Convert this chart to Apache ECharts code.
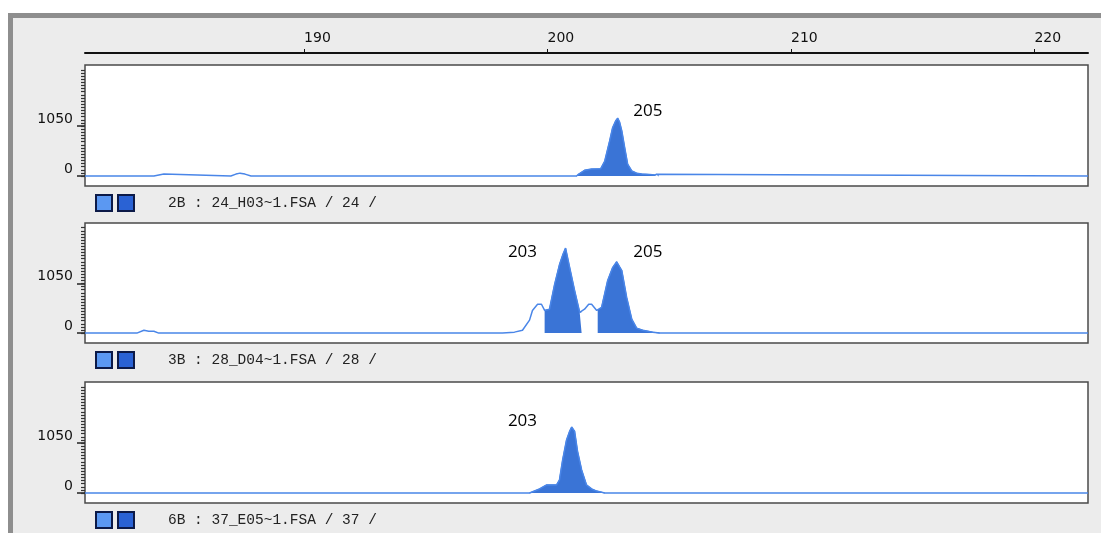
<!DOCTYPE html>
<html><head><meta charset="utf-8">
<script src="https://cdn.jsdelivr.net/npm/echarts@6/dist/echarts.min.js"></script>
<style>html,body{margin:0;padding:0;background:#fff}#c{width:1101px;height:533px}</style>
</head><body><div id="c"></div>
<script>
// ---- data ----
const xTicks = [190, 200, 210, 220];
const yTicks = [0, 1050];
const panelNames = ['2B : 24_H03~1.FSA / 24 /', '3B : 28_D04~1.FSA / 28 /', '6B : 37_E05~1.FSA / 37 /'];
const trace1 = [[181.0,0],[181.45,0],[181.53,40],[181.61,0],[182.67,0],[182.72,40],[182.80,0],[183.83,0],[183.91,40],[184.24,40],[184.32,0],[186.99,0],[187.20,40],[187.37,60],[187.57,40],[187.82,0],[201.19,0],[201.28,40],[201.52,120],[201.81,145],[202.18,150],[202.35,315],[202.55,735],[202.67,1010],[202.80,1160],[202.88,1215],[202.96,1130],[203.05,945],[203.17,590],[203.29,250],[203.46,105],[203.66,60],[203.87,40],[204.20,30],[204.40,20],[204.49,35],[204.57,0],[222.2,0]];
const trace2 = [[181.0,0],[183.13,0],[183.21,30],[183.42,60],[183.62,40],[183.83,40],[184.03,0],[198.15,0],[198.64,20],[198.97,60],[199.26,275],[199.38,480],[199.59,610],[199.75,610],[199.88,480],[200.08,505],[200.29,1030],[200.49,1450],[200.62,1650],[200.74,1800],[200.91,1385],[201.11,905],[201.32,440],[201.40,450],[201.52,505],[201.69,610],[201.81,610],[202.02,480],[202.06,485],[202.22,545],[202.47,1115],[202.67,1385],[202.84,1510],[203.05,1325],[203.25,755],[203.46,295],[203.66,105],[203.91,60],[204.32,20],[204.61,0],[222.2,0]];
const trace3 = [[181.0,0],[199.26,0],[199.67,85],[199.96,170],[200.37,170],[200.49,275],[200.62,695],[200.78,1115],[200.91,1300],[200.99,1385],[201.11,1300],[201.23,880],[201.40,485],[201.60,170],[201.81,85],[202.02,40],[202.35,0],[222.2,0]];
const fill1 = [[201.19, 204.57]];
const fill2 = [[199.88, 201.40], [202.06, 204.61]];
const fill3 = [[199.26, 202.35]];
const peaks1 = [['205', 204.12, 1365]];
const peaks2 = [['203', 198.97, 1720], ['205', 204.12, 1720]];
const peaks3 = [['203', 198.97, 1510]];

// ---- layout / style ----
const traces = [trace1, trace2, trace3];
const fills = [fill1, fill2, fill3];
const peaks = [peaks1, peaks2, peaks3];
const gridTops = [65, 223, 382];
const gridHeights = [121, 120, 121];
const X_MIN = 181, X_MAX = 222.2, Y_MIN = -210, Y_MAX = 2331;
const LINE = '#4a86e8', FILL = '#3a74d6';
const minorVals = [];
for (let k = 0; k <= 34; k++) minorVals.push(k * 1050 / 16);

const grids = [], xAxes = [], yAxes = [], series = [], graphic = [];
graphic.push({type:'rect', shape:{x:0,y:0,width:1101,height:13}, style:{fill:'#fff'}, silent:true});
graphic.push({type:'rect', shape:{x:0,y:0,width:8,height:533}, style:{fill:'#fff'}, silent:true});
graphic.push({type:'polyline', shape:{points:[[10.5,533],[10.5,15.5],[1101,15.5]]}, style:{stroke:'#8e8e8e', lineWidth:5, fill:null}, silent:true});

for (let i = 0; i < 3; i++) {
  grids.push({left:85, right:13, top:gridTops[i], height:gridHeights[i], show:true,
    backgroundColor:'#fff', borderColor:'#4a4a4a', borderWidth:1.5});
  xAxes.push(i === 0 ? {
    type:'value', gridIndex:i, min:X_MIN, max:X_MAX, position:'top', offset:12,
    axisLine:{show:true, onZero:false, lineStyle:{color:'#111', width:2}},
    axisTick:{show:true, customValues:xTicks, length:4, lineStyle:{color:'#111', width:1}},
    axisLabel:{show:true, customValues:xTicks, align:'left', margin:8, color:'#111',
      fontFamily:'DejaVu Sans', fontSize:14, formatter: v => String(v)},
    splitLine:{show:false}
  } : {
    type:'value', gridIndex:i, min:X_MIN, max:X_MAX, show:false, splitLine:{show:false}
  });
  yAxes.push({
    type:'value', gridIndex:i, min:Y_MIN, max:Y_MAX, position:'left',
    axisLine:{show:false},
    axisTick:{show:true, customValues:yTicks, length:8, lineStyle:{color:'#222', width:1.5}},
    axisLabel:{show:true, customValues:yTicks, margin:12, verticalAlign:'bottom', color:'#111',
      fontFamily:'DejaVu Sans', fontSize:14, formatter: v => String(v)},
    splitLine:{show:false}
  });
  yAxes.push({
    type:'value', gridIndex:i, min:Y_MIN, max:Y_MAX, position:'left', offset:0,
    axisLine:{show:false},
    axisTick:{show:true, customValues:minorVals, length:4, lineStyle:{color:'#333', width:1.2}},
    axisLabel:{show:false}, splitLine:{show:false}
  });
  const inFill = x => fills[i].some(([a, b]) => x >= a - 1e-9 && x <= b + 1e-9);
  series.push({type:'line', xAxisIndex:i, yAxisIndex:2*i, symbol:'none', z:2, connectNulls:false,
    data: traces[i].map(p => inFill(p[0]) ? p : [p[0], null]),
    lineStyle:{color:FILL, width:1}, areaStyle:{color:FILL, opacity:1, origin:0}});
  series.push({type:'line', xAxisIndex:i, yAxisIndex:2*i, symbol:'none', z:3,
    data: traces[i], lineStyle:{color:LINE, width:1.5}});
  series.push({type:'scatter', xAxisIndex:i, yAxisIndex:2*i, symbolSize:0, z:4,
    data: peaks[i].map(p => ({name:p[0], value:[p[1], p[2]]})),
    label:{show:true, position:'inside', formatter:'{b}', color:'#000', opacity:1,
      fontFamily:'Open Sans', fontSize:17}});
  const y0 = gridTops[i] + gridHeights[i] + 9;
  graphic.push({type:'rect', shape:{x:96,y:y0,width:16,height:16}, style:{fill:'#5b98f2', stroke:'#0c1a48', lineWidth:2}, silent:true});
  graphic.push({type:'rect', shape:{x:118,y:y0,width:16,height:16}, style:{fill:'#2a62d4', stroke:'#0c1a48', lineWidth:2}, silent:true});
  graphic.push({type:'text', x:168, y:y0+8, style:{text:panelNames[i], fill:'#222',
    font:'14.5px "Liberation Mono"', verticalAlign:'middle'}, silent:true});
}

const chart = echarts.init(document.getElementById('c'), null, {renderer:'canvas'});
chart.setOption({
  backgroundColor:'#ececec', animation:false,
  grid:grids, xAxis:xAxes, yAxis:yAxes, series:series, graphic:graphic
});
</script></body></html>
